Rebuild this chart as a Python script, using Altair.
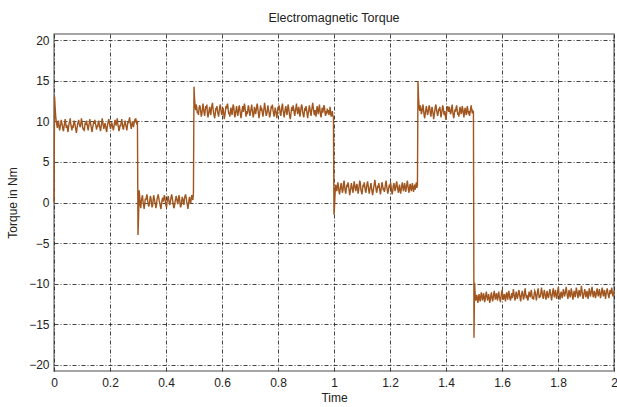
import altair as alt
import pandas as pd

# Segment boundaries (s) and torque samples (tenths of Nm)
seg_bounds = [0.0, 0.3, 0.5, 1.0, 1.3, 1.5, 2.0]

seg1 = [0, 131, 118, 107, 100, 96, 92, 99, 101, 94, 89, 93, 97, 102, 98, 95, 90, 88, 94, 99,
        103, 97, 92, 96, 91, 87, 93, 98, 100, 104, 96, 93, 89, 95, 92, 97, 101, 99, 94, 90,
        86, 91, 96, 99, 102, 97, 95, 93, 98, 104, 100, 94, 90, 92, 88, 95, 99, 96, 101, 97,
        93, 89, 94, 98, 103, 99, 95, 91, 87, 92, 96, 100, 97, 102, 98, 94, 90, 95, 93, 99,
        101, 96, 92, 88, 93, 97, 104, 100, 95, 91, 94, 98, 96, 90, 87, 92, 97, 101, 103, 98,
        94, 91, 95, 99, 96, 92, 89, 93, 98, 102, 99, 95, 100, 104, 97, 93, 88, 91, 96, 94,
        99, 103, 98, 92, 90, 95, 97, 101, 96, 93, 89, 94, 100, 98, 102, 105, 99, 95, 91, 96,
        100, 97, 93, 98, 101, 99, 104, 100, 96, 101]
seg2 = [-40, -18, 15, 8, -3, -7, 2, 6, 9, 1, -4, -8, -2, 5, 3, 7, 10, 4, -1, -5,
        -3, 2, 8, 6, 0, -6, -4, 3, 9, 5, 1, -2, -7, -3, 4, 7, 10, 6, 2, -1,
        -5, -8, -2, 3, 6, 1, 4, 9, 7, 0, -4, -6, 1, 5, 8, 3, -1, -3, 2, 6,
        10, 7, 2, -3, -7, -5, 0, 4, 8, 5, 1, -2, 3, 9, 6, -1, -6, -4, 2, 7,
        4, 0, -3, 5, 8, 10, 6, 1, -2, -8, -4, 3, 7, 2, -1, 4, 9, 6, 3, 12]
seg3 = [143, 128, 119, 114, 121, 117, 110, 113, 108, 116, 120, 118, 112, 106, 109, 115, 122, 117, 111, 107,
        113, 119, 116, 121, 110, 105, 109, 114, 118, 112, 108, 115, 120, 123, 116, 111, 107, 104, 110, 117,
        114, 119, 112, 109, 106, 113, 118, 121, 115, 110, 108, 114, 117, 111, 103, 107, 112, 119, 116, 120,
        122, 115, 109, 111, 106, 113, 117, 112, 108, 116, 121, 118, 110, 105, 109, 114, 119, 113, 107, 111,
        117, 120, 114, 108, 104, 110, 115, 119, 112, 116, 122, 118, 111, 106, 113, 109, 114, 120, 117, 110,
        107, 112, 116, 121, 115, 108, 105, 111, 118, 114, 109, 113, 119, 122, 116, 110, 104, 108, 115, 120,
        113, 117, 111, 106, 110, 116, 123, 118, 112, 107, 109, 114, 120, 115, 111, 105, 108, 113, 119, 116,
        121, 114, 110, 106, 112, 117, 113, 108, 104, 111, 118, 115, 120, 116, 109, 107, 113, 119, 122, 114,
        110, 105, 111, 116, 119, 112, 108, 114, 121, 117, 111, 106, 103, 109, 115, 118, 113, 120, 116, 110,
        107, 113, 117, 122, 115, 109, 112, 118, 114, 106, 110, 116, 121, 119, 112, 108, 105, 111, 117, 113,
        119, 115, 109, 104, 110, 114, 120, 116, 111, 107, 113, 118, 123, 117, 112, 108, 114, 110, 106, 115,
        119, 113, 109, 116, 121, 114, 108, 105, 112, 117, 111, 115, 120, 118, 110, 107, 113, 109, 116, 111,
        114, 108, 112, 118, 110, 106, 109, 113, 107, 105]
seg4 = [-15, -4, 12, 22, 18, 14, 20, 25, 19, 13, 10, 16, 21, 24, 17, 12, 15, 23, 27, 20,
        14, 11, 17, 22, 19, 25, 21, 15, 9, 13, 18, 24, 20, 16, 12, 19, 26, 22, 17, 14,
        20, 23, 18, 11, 15, 21, 27, 24, 16, 13, 10, 17, 22, 19, 25, 20, 14, 12, 18, 23,
        26, 21, 15, 11, 16, 20, 24, 18, 13, 9, 14, 19, 23, 28, 22, 17, 12, 15, 21, 18,
        24, 19, 14, 10, 16, 22, 25, 20, 15, 18, 13, 17, 23, 27, 21, 16, 11, 14, 19, 22,
        18, 25, 20, 13, 10, 15, 21, 24, 19, 14, 17, 23, 26, 20, 16, 12, 18, 22, 15, 11,
        16, 21, 25, 19, 14, 18, 24, 20, 13, 17, 22, 27, 21, 15, 12, 19, 23, 18, 14, 20,
        24, 17, 13, 19, 22, 16, 20, 25, 18, 21]
seg5 = [150, 129, 118, 113, 120, 116, 109, 112, 117, 121, 114, 107, 104, 110, 115, 119, 113, 108, 111, 116,
        120, 117, 110, 106, 112, 118, 114, 109, 103, 108, 113, 119, 121, 115, 111, 107, 110, 116, 113, 118,
        112, 105, 109, 114, 120, 117, 111, 108, 113, 106, 102, 110, 115, 119, 116, 112, 118, 114, 109, 111,
        116, 121, 113, 107, 104, 110, 115, 112, 117, 120, 114, 108, 111, 106, 113, 118, 115, 109, 112, 119,
        116, 110, 105, 111, 117, 114, 108, 112, 119, 115, 109, 113, 107, 111, 116, 120, 114, 110, 113, 112]
seg6 = [-167, -99, -112, -121, -118, -114, -120, -124, -117, -113, -119, -122, -116, -111, -115, -121, -118, -112, -116, -123,
        -119, -114, -110, -116, -121, -117, -113, -118, -124, -120, -115, -111, -117, -122, -119, -113, -109, -115, -120, -116,
        -112, -118, -121, -114, -110, -116, -119, -123, -117, -112, -108, -114, -120, -118, -113, -117, -122, -115, -111, -116,
        -120, -113, -109, -115, -119, -121, -116, -112, -118, -114, -107, -112, -117, -121, -115, -110, -114, -119, -116, -111,
        -108, -113, -118, -122, -116, -112, -109, -115, -120, -117, -111, -106, -113, -118, -114, -119, -121, -115, -110, -113,
        -117, -112, -108, -114, -119, -116, -120, -113, -109, -111, -116, -121, -115, -110, -106, -112, -118, -114, -117, -111,
        -105, -110, -115, -119, -113, -108, -112, -117, -120, -114, -109, -113, -118, -116, -111, -107, -112, -116, -121, -115,
        -110, -106, -113, -117, -112, -108, -114, -119, -115, -109, -104, -111, -116, -120, -113, -110, -115, -118, -112, -107,
        -111, -116, -113, -109, -104, -110, -115, -119, -114, -108, -112, -117, -113, -106, -110, -116, -120, -114, -109, -112,
        -117, -111, -105, -109, -114, -118, -112, -108, -113, -116, -110, -103, -108, -114, -119, -115, -111, -107, -112, -117,
        -113, -109, -115, -119, -112, -106, -110, -116, -113, -108, -104, -111, -117, -114, -109, -112, -118, -115, -110, -106,
        -112, -116, -111, -107, -113, -118, -114, -109, -105, -111, -116, -112, -108, -114, -119, -113, -109, -106, -111, -115,
        -118, -112, -108, -113, -110, -105, -111, -116, -114, -109]

segments = [seg1, seg2, seg3, seg4, seg5, seg6]
x_ticks = [0, 0.2, 0.4, 0.6, 0.8, 1.0, 1.2, 1.4, 1.6, 1.8, 2.0]
y_ticks = [-20, -15, -10, -5, 0, 5, 10, 15, 20]

times, torques = [], []
for k, seg in enumerate(segments):
    start, end = seg_bounds[k], seg_bounds[k + 1]
    n = len(seg)
    div = n - 1 if k == len(segments) - 1 else n
    for i, v in enumerate(seg):
        times.append(start + i * (end - start) / div)
        torques.append(v / 10.0)

df = pd.DataFrame({"t": times, "torque": torques, "order": list(range(len(times)))})

FONT = "Liberation Sans"

chart = alt.Chart(df).mark_line(color="#A0561E", strokeWidth=1.4).encode(
    x=alt.X("t:Q",
            scale=alt.Scale(domain=[0, 2], nice=False, zero=False),
            axis=alt.Axis(values=x_ticks, title="Time", format="~g")),
    y=alt.Y("torque:Q",
            scale=alt.Scale(domain=[-20.8, 20.8], nice=False, zero=False),
            axis=alt.Axis(values=y_ticks, title="Torque in Nm")),
    order="order:Q",
).properties(
    width=560, height=337,
    background="white",
    title=alt.TitleParams("Electromagnetic Torque", fontSize=12.5, font=FONT,
                          fontWeight="normal", color="#222", offset=10),
    autosize=alt.AutoSizeParams(type="none"),
    padding={"left": 54, "top": 34, "right": 3, "bottom": 36},
).configure_view(
    stroke="#888", strokeWidth=1.5,
).configure_axis(
    grid=True, gridColor="#222", gridDash=[4, 2, 1, 2], gridWidth=1, gridOpacity=0.85,
    domain=False, ticks=False, labelFlush=False,
    labelFont=FONT, labelFontSize=12, labelColor="#222",
    titleFont=FONT, titleFontSize=12, titleColor="#222", titleFontWeight="normal",
).configure_axisX(
    labelPadding=6, titlePadding=4,
).configure_axisY(
    labelPadding=5, titlePadding=9,
)

chart.save("out.html", embed_options={"renderer": "svg", "actions": False})
